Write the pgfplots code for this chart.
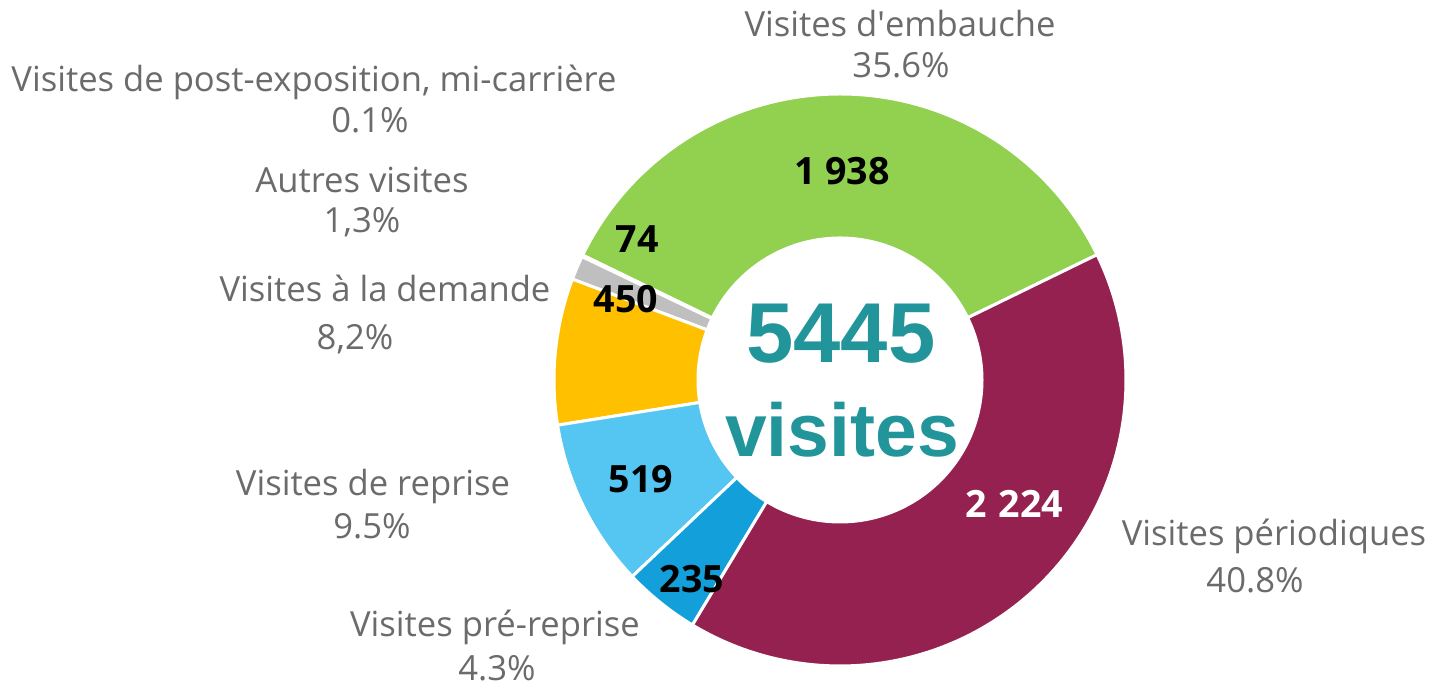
\documentclass[border=0pt]{standalone}
\usepackage{pgfplots}
\pgfplotsset{compat=1.18}
\usepackage{pgfplotstable}
\usepackage{fontspec}
\setmainfont{Open Sans}
\newfontfamily\libsans{Liberation Sans}

\definecolor{cEmb}{HTML}{92D050}
\definecolor{cPer}{HTML}{94214F}
\definecolor{cPre}{HTML}{13A0DA}
\definecolor{cRep}{HTML}{55C5F2}
\definecolor{cDem}{HTML}{FFC000}
\definecolor{cAut}{HTML}{BFBFBF}
\definecolor{cPost}{HTML}{A5A5A5}
\definecolor{lbl}{HTML}{6B6B6B}
\definecolor{tealc}{HTML}{21959A}

% counter-clockwise order, starting at the embauche / periodiques boundary
\pgfplotstableread{
id value
emb 1938
post 5
aut 74
dem 450
rep 519
pre 235
per 2224
}\visits

\pgfplotstablegetelem{0}{value}\of\visits \let\vA\pgfplotsretval
\pgfplotstablegetelem{1}{value}\of\visits \let\vB\pgfplotsretval
\pgfplotstablegetelem{2}{value}\of\visits \let\vC\pgfplotsretval
\pgfplotstablegetelem{3}{value}\of\visits \let\vD\pgfplotsretval
\pgfplotstablegetelem{4}{value}\of\visits \let\vE\pgfplotsretval
\pgfplotstablegetelem{5}{value}\of\visits \let\vF\pgfplotsretval
\pgfplotstablegetelem{6}{value}\of\visits \let\vG\pgfplotsretval
\pgfmathsetmacro\total{\vA+\vB+\vC+\vD+\vE+\vF+\vG}
\pgfmathsetmacro\aA{26}
\pgfmathsetmacro\aB{\aA+\vA/\total*360}
\pgfmathsetmacro\aC{\aB+\vB/\total*360}
\pgfmathsetmacro\aD{\aC+\vC/\total*360}
\pgfmathsetmacro\aE{\aD+\vD/\total*360}
\pgfmathsetmacro\aF{\aE+\vE/\total*360}
\pgfmathsetmacro\aG{\aF+\vF/\total*360}
\pgfmathsetmacro\aH{\aG+\vG/\total*360}

\def\cx{840}\def\cy{308}\def\Ro{286}\def\Ri{142}
% ring sector from angle #1 to #2
\newcommand\slice[3]{%
  \addplot[fill=#3, draw=white, line width=1.5pt, line join=round,
    domain=0:2, samples=241, variable=\t]
  ({\cx + ifthenelse(\t<=1,\Ro,\Ri)*cos(ifthenelse(\t<=1, #1+\t*(#2-#1), #2-max(\t-1-1/120,0)*(#2-#1)*120/119))},
   {\cy + ifthenelse(\t<=1,\Ro,\Ri)*sin(ifthenelse(\t<=1, #1+\t*(#2-#1), #2-max(\t-1-1/120,0)*(#2-#1)*120/119))}) -- cycle;
}
\newcommand\lab[3]{\node[anchor=base, inner sep=0pt, text=lbl, font=\fontsize{17.3pt}{20pt}\selectfont] at (axis cs:#1,{688-#2}) {#3};}
\newcommand\val[4][black]{\node[anchor=base, inner sep=0pt, text=#1, font=\fontsize{18.8pt}{22pt}\selectfont\bfseries] at (axis cs:#2,{688-#3}) {#4};}

\begin{document}
\begin{tikzpicture}
\begin{axis}[
  scale only axis, width=720.5pt, height=344pt,
  xmin=0, xmax=1441, ymin=0, ymax=688,
  hide axis, clip=false]
\path (axis cs:0,0) rectangle (axis cs:1441,688);
\slice{\aA}{\aB}{cEmb}
\slice{\aB}{\aC}{cPost}
\slice{\aC}{\aD}{cAut}
\slice{\aD}{\aE}{cDem}
\slice{\aE}{\aF}{cRep}
\slice{\aF}{\aG}{cPre}
\slice{\aG}{\aH}{cPer}

% values
\val{842}{185}{1 938}
\val{637}{253}{74}
\val{626}{313}{450}
\val{641}{493}{519}
\val{692}{593}{235}
\val[white]{1014}{518}{2\hspace{0.32em}224}

% centre
\node[anchor=base, inner sep=0pt, text=tealc, font=\libsans\bfseries\fontsize{42.5pt}{48pt}\selectfont] at (axis cs:841,{688-363}) {5445};
\node[anchor=base, inner sep=0pt, text=tealc, font=\libsans\bfseries\fontsize{37.5pt}{44pt}\selectfont] at (axis cs:842,{688-457}) {visites};

% category labels
\lab{900}{37}{Visites d\textquotesingle embauche}
\lab{901}{78}{35.6\%}
\lab{314}{92}{Visites de post-exposition, mi-carrière}
\lab{370}{133}{0.1\%}
\lab{362}{193}{Autres visites}
\lab{362}{233}{1,3\%}
\lab{385}{302}{Visites à la demande}
\lab{355}{350}{8,2\%}
\lab{373}{496}{Visites de reprise}
\lab{372}{539}{9.5\%}
\lab{495}{637}{Visites pré-reprise}
\lab{497}{681}{4.3\%}
\lab{1274}{546}{Visites périodiques}
\lab{1255}{593}{40.8\%}
\end{axis}
\end{tikzpicture}
\end{document}
